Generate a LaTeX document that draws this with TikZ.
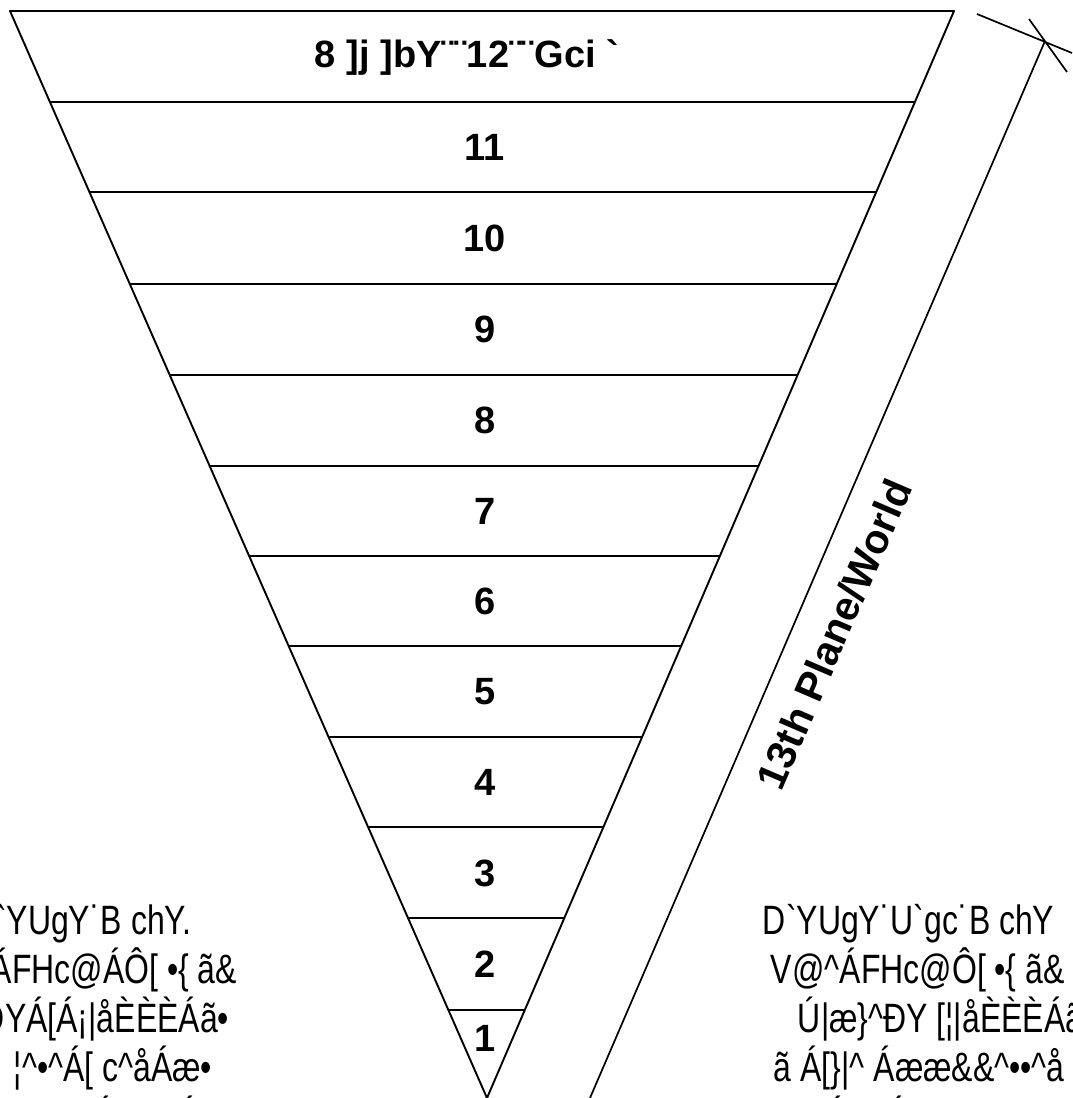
\documentclass[tikz,border=0pt]{standalone}
\usepackage{fontspec}
\usepackage{graphicx}
\setmainfont{Liberation Sans}[Ligatures=TeXOff]
\newcommand{\squeeze}[1]{\scalebox{0.78}[1]{#1}}
\begin{document}
\begin{tikzpicture}[x=1pt,y=-1pt,declare function={xl(\t)=10+(\t-11)*0.4388; xr(\t)=954-(\t-11)*0.4296;},line join=round,line width=1.9pt,
	lbl/.style={font=\fontsize{38}{42}\selectfont\bfseries},
	scrap/.style={font=\fontsize{41}{46}\selectfont,inner sep=0pt}]
	\useasboundingbox (0,0) rectangle (1073,1098);
	\coordinate (tl) at (10,11);
	\coordinate (tr) at (954,11);
	\coordinate (ap) at (487,1098);
	\draw (tl) -- (tr) -- (ap) -- cycle;
	\foreach \y in {102,192,284,375,466,556,646,737,827,918,1010}
		\draw ({xl(\y)},\y) -- ({xr(\y)},\y);
	\node[lbl] (top) at (467,58) {8 ]j ]bY¨¨12¨¨Gci `};
	\foreach \lab/\y in {11/147,10/238,9/329,8/420,7/511,6/601,5/692,4/782,3/873,2/964,1/1038}
		\node[lbl] (n\lab) at (485,\y) {\lab};
	\coordinate (wtop) at (1045,41);
	\coordinate (wbot) at (590,1098);
	\draw[line width=1.7pt] (wbot) -- (wtop);
	\draw[line width=1.7pt] (977,14) -- (1072,53) (1029,19) -- (1067,72);
	\node[font=\fontsize{41}{44}\selectfont\bfseries,rotate=66.7] (world) at (834,634) {13th Plane/World};
	\node[scrap,anchor=base east] (l1) at (192,934) {\squeeze{D`YUgY˙B chY.}};
	\node[scrap,anchor=base east] (l2) at (238,983) {\squeeze{ÁFHc@ÁÔ[ •\{ ã\&}};
	\node[scrap,anchor=base east] (l3) at (230,1032) {\squeeze{e \symbol{94}ÐYÁ[Á¡|åÈÈÈÁã•}};
	\node[scrap,anchor=base east] (l4) at (213,1081) {\squeeze{¦\symbol{94}•\symbol{94}Á[ c\symbol{94}åÁæ•}};
	\node[scrap,anchor=base east] (l5) at (200,1131) {\squeeze{Á\hspace{80pt}Á}};
	\node[scrap,anchor=base west] (r1) at (762,934) {\squeeze{D`YUgY˙U`gc˙B chY}};
	\node[scrap,anchor=base west] (r2) at (770,983) {\squeeze{V@\symbol{94}ÁFHc@Ô[ •\{ ã\&}};
	\node[scrap,anchor=base west] (r3) at (797,1032) {\squeeze{Ú|æ\}\symbol{94}ÐY [¦|åÈÈÈÁã•}};
	\node[scrap,anchor=base west] (r4) at (773,1081) {\squeeze{ã Á[\}|\symbol{94} Áææ\&\&\symbol{94}••\symbol{94}å}};
	\node[scrap,anchor=base west] (r5) at (825,1131) {\squeeze{Á\hspace{50pt}Á}};
\end{tikzpicture}
\end{document}
